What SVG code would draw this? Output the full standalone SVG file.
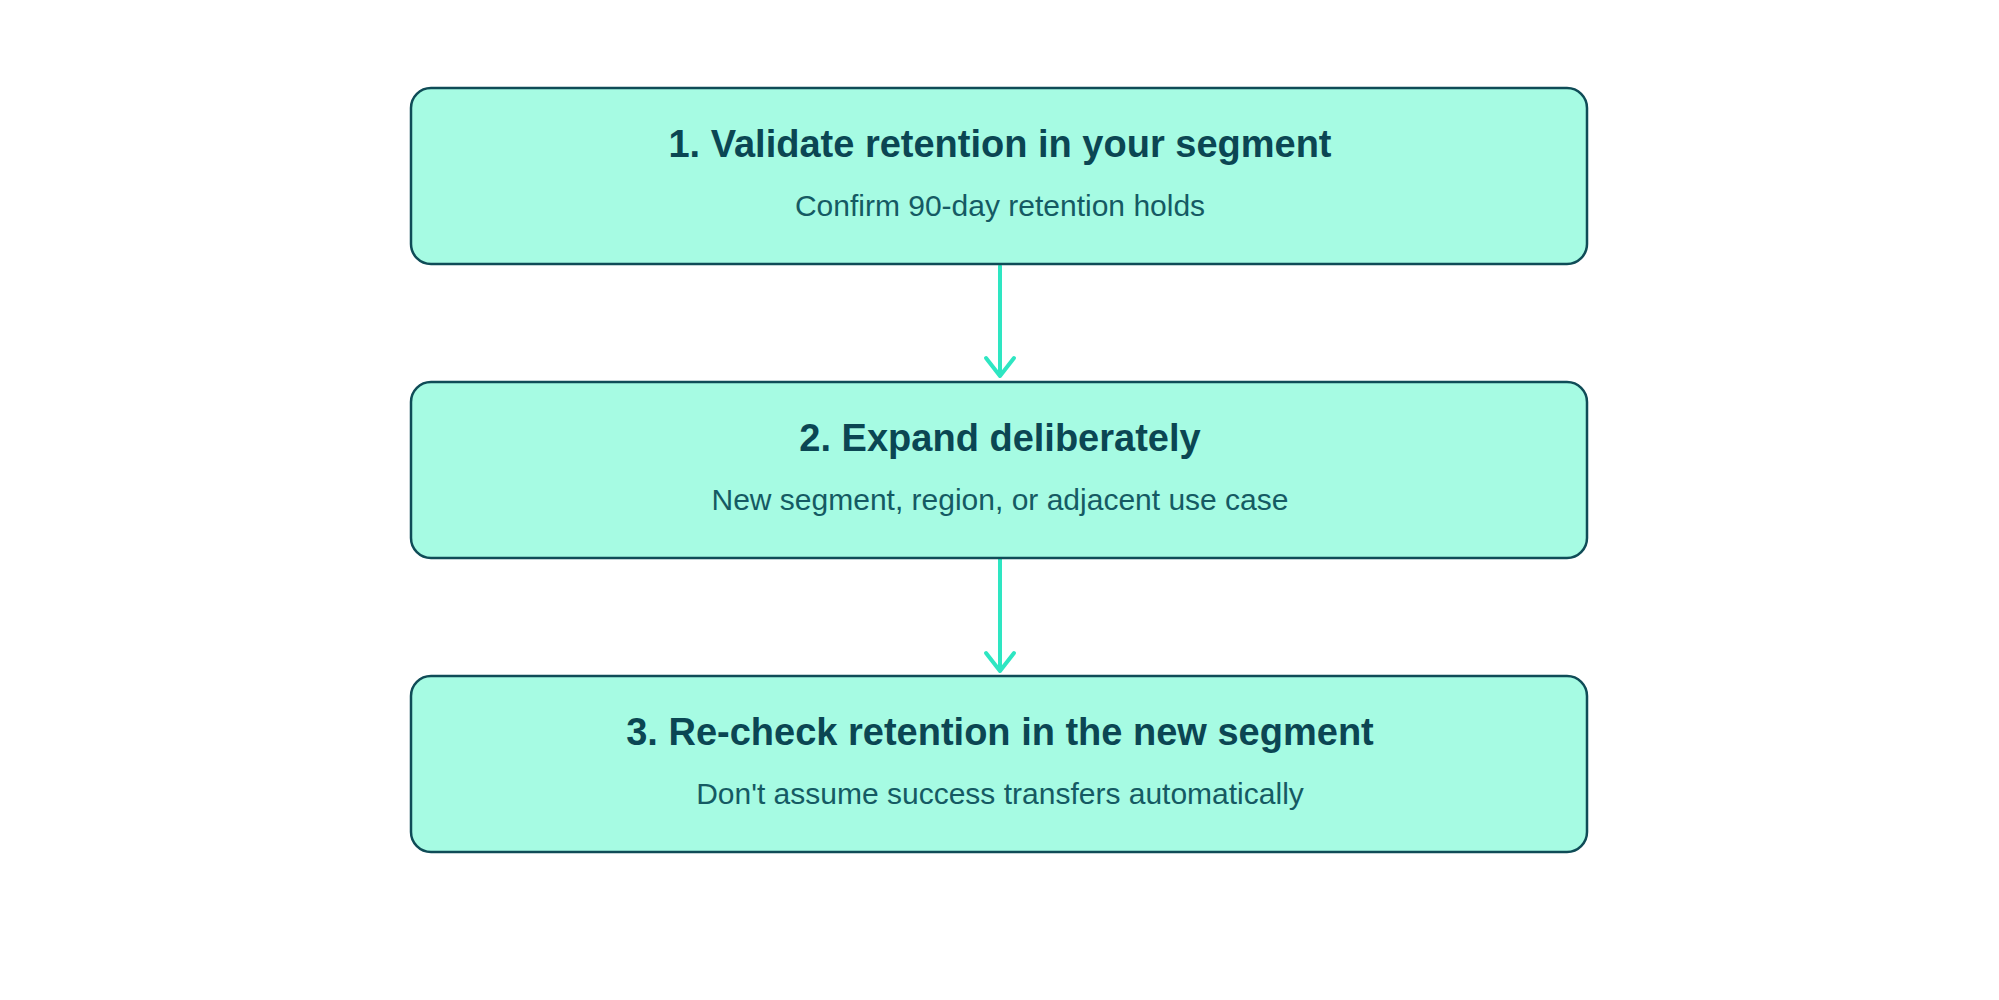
<svg xmlns="http://www.w3.org/2000/svg" width="1999" height="1000" viewBox="0 0 1999 1000">
<style>
.box{fill:#a6fbe3;stroke:#0f4c57;stroke-width:2.5}
.t{font-family:"Liberation Sans",Arial,sans-serif;font-weight:bold;font-size:38px;fill:#0b4653;text-anchor:middle}
.s{font-family:"Liberation Sans",Arial,sans-serif;font-size:30px;fill:#155a63;text-anchor:middle}
.c{stroke:#2ee6c2;stroke-width:4;fill:none;stroke-linecap:round;stroke-linejoin:round}
</style>
<rect width="1999" height="1000" fill="#fff"/>
<g id="connectors">
<path class="c" d="M1000 266V376M986 358L1000 376L1014 358"/>
<path class="c" d="M1000 559V671M986 653L1000 671L1014 653"/>
</g>
<g id="n1"><rect class="box" x="411" y="88" width="1176" height="176" rx="20"/>
<text class="t" x="1000" y="157">1. Validate retention in your segment</text>
<text class="s" x="1000" y="216">Confirm 90-day retention holds</text></g>
<g id="n2"><rect class="box" x="411" y="382" width="1176" height="176" rx="20"/>
<text class="t" x="1000" y="451">2. Expand deliberately</text>
<text class="s" x="1000" y="510">New segment, region, or adjacent use case</text></g>
<g id="n3"><rect class="box" x="411" y="676" width="1176" height="176" rx="20"/>
<text class="t" x="1000" y="745">3. Re-check retention in the new segment</text>
<text class="s" x="1000" y="804">Don't assume success transfers automatically</text></g>
</svg>
